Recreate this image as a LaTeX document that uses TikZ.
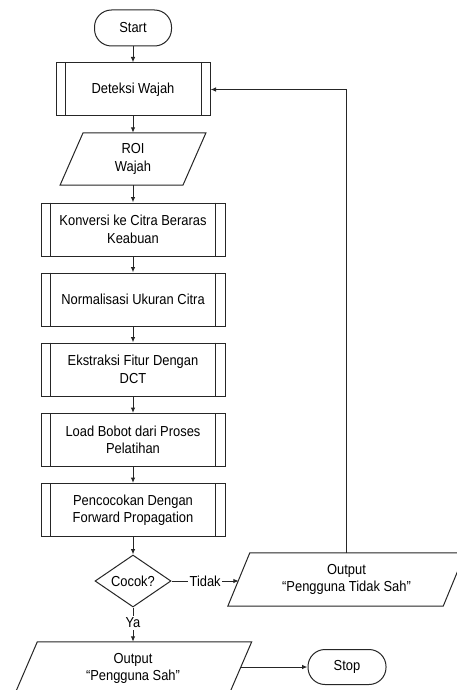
\documentclass[tikz,border=0pt]{standalone}
\usepackage{fontspec}
\setmainfont[FakeStretch=0.89]{Liberation Sans}
\usetikzlibrary{arrows.meta,shapes.geometric}
\tikzset{
  ln/.style={line width=1pt, draw=black!85},
  arr/.style={ln, -{Latex[length=5.5pt,width=4.5pt]}},
  term/.style={ln, rectangle, rounded corners=17pt, minimum width=77pt, minimum height=36pt, inner sep=0pt},
  proc/.style={ln, rectangle, minimum width=184pt, minimum height=53pt, inner sep=0pt, align=center},
  io/.style={rectangle, draw=none, minimum height=53pt, inner sep=0pt, align=center},
  dec/.style={ln, diamond, minimum width=76pt, minimum height=52pt, inner sep=0pt, aspect=1.5},
  lbl/.style={fill=white, inner sep=1.5pt},
}
\begin{document}
\begin{tikzpicture}[x=1pt,y=-1pt, font=\fontsize{14.5pt}{17.5pt}\selectfont]
\useasboundingbox (0,0) rectangle (457,690);
\clip (0,0) rectangle (457,690);
\fill[white] (0,0) rectangle (457,690);

\node[term] (start) at (133,28) {Start};
\node[proc, minimum width=154pt] (det) at (133,89.5) {Deteksi Wajah};
\node[io, minimum width=122.5pt, minimum height=52pt] (roi) at (133,159) {ROI\\Wajah};
\node[proc] (konv) at (133,229.5) {Konversi ke Citra Beraras\\Keabuan};
\node[proc] (norm) at (133,299.5) {Normalisasi Ukuran Citra};
\node[proc] (ekst) at (133,369.5) {Ekstraksi Fitur Dengan\\DCT};
\node[proc] (load) at (133,440) {Load Bobot dari Proses\\Pelatihan};
\node[proc] (penc) at (133,510) {Pencocokan Dengan\\Forward Propagation};
\node[dec] (cocok) at (133,581) {Cocok?};
\node[io, minimum width=215pt] (tidak) at (346.5,579.5) {Output\\“Pengguna Tidak Sah”};
\node[io, minimum width=214pt] (sah) at (133,668.5) {Output\\“Pengguna Sah”};
\node[term, minimum width=78pt, minimum height=35pt] (stop) at (347,667) {Stop};

% predefined-process side bars
\draw[ln] ([xshift=9.5pt]det.north west) -- ([xshift=9.5pt]det.south west)
          ([xshift=-9.5pt]det.north east) -- ([xshift=-9.5pt]det.south east);
\foreach \n in {konv,norm,ekst,load,penc}{
  \draw[ln] ([xshift=10pt]\n.north west) -- ([xshift=10pt]\n.south west)
            ([xshift=-10pt]\n.north east) -- ([xshift=-10pt]\n.south east);
}
% parallelograms
\foreach \n/\s in {roi/11.5,tidak/11,sah/11.5}{
  \draw[ln] ([xshift=\s pt]\n.north west) -- ([xshift=\s pt]\n.north east)
            -- ([xshift=-\s pt]\n.south east) -- ([xshift=-\s pt]\n.south west) -- cycle;
}

% connectors
\draw[arr] (start) -- (det);
\draw[arr] (det) -- (roi);
\draw[arr] (roi) -- (konv);
\draw[arr] (konv) -- (norm);
\draw[arr] (norm) -- (ekst);
\draw[arr] (ekst) -- (load);
\draw[arr] (load) -- (penc);
\draw[arr] (penc) -- (cocok);
\draw[arr] (cocok.east) -- node[lbl] {Tidak} (cocok.east -| tidak.west);
\draw[arr] (cocok.south) -- node[lbl, pos=0.45] {Ya} (sah.north);
\draw[arr] (tidak.north) |- (det.east);
\draw[arr] (stop.west -| sah.east) -- (stop.west);
\end{tikzpicture}
\end{document}
